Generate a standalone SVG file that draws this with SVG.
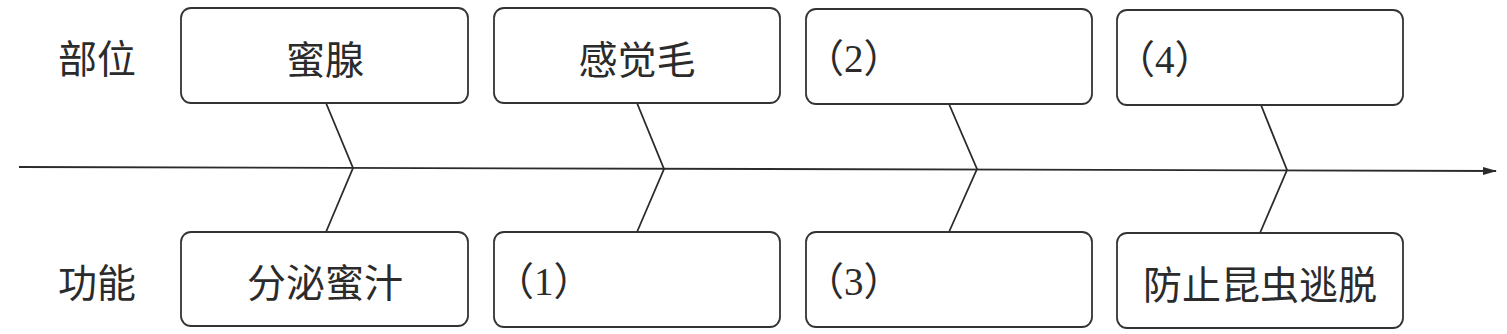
<svg xmlns="http://www.w3.org/2000/svg" width="1507" height="334" viewBox="0 0 1507 334">
<style>
.box{fill:#fff;stroke:#333;stroke-width:1.8}
.t{font-family:"Noto Sans CJK SC","Noto Sans",sans-serif;font-size:39px;fill:#2b2b2b;dominant-baseline:central}
.s{font-family:"Liberation Serif","Noto Sans CJK SC",serif;font-size:39px;fill:#2b2b2b;dominant-baseline:central}
.c{fill:none;stroke:#2b2b2b;stroke-width:1.8}
</style>
<defs>
<marker id="ah" markerWidth="14" markerHeight="10" refX="13" refY="5" orient="auto" markerUnits="userSpaceOnUse">
<path d="M0,1 L14,5 L0,9 Z" fill="#2b2b2b"/>
</marker>
</defs>
<g id="label-buwei"><text class="t" x="97" y="56" text-anchor="middle">部位</text></g>
<g id="label-gongneng"><text class="t" x="97" y="280" text-anchor="middle">功能</text></g>
<g id="connectors">
<line class="c" x1="19" y1="167" x2="1496" y2="171" marker-end="url(#ah)"/>
<polyline class="c" points="326,103 353,168 326,232"/>
<polyline class="c" points="637,103 664,169 637,232"/>
<polyline class="c" points="949,104 977,169 949,232"/>
<polyline class="c" points="1261,105 1287,170 1260,233"/>
</g>
<g id="node-mixian"><rect class="box" x="181" y="8" width="287" height="95" rx="10"/><text class="t" x="325" y="57" text-anchor="middle">蜜腺</text></g>
<g id="node-ganjuemao"><rect class="box" x="494" y="8" width="286" height="95" rx="10"/><text class="t" x="637" y="57" text-anchor="middle">感觉毛</text></g>
<g id="node-2"><rect class="box" x="806" y="9" width="286" height="95" rx="10"/><text class="s" x="805" y="58">（2）</text></g>
<g id="node-4"><rect class="box" x="1117" y="10" width="286" height="95" rx="10"/><text class="s" x="1116" y="59">（4）</text></g>
<g id="node-fenmi"><rect class="box" x="181" y="232" width="287" height="94" rx="10"/><text class="t" x="325" y="280" text-anchor="middle">分泌蜜汁</text></g>
<g id="node-1"><rect class="box" x="494" y="232" width="286" height="95" rx="10"/><text class="s" x="495" y="281">（1）</text></g>
<g id="node-3"><rect class="box" x="806" y="232" width="286" height="95" rx="10"/><text class="s" x="805" y="281">（3）</text></g>
<g id="node-fangzhi"><rect class="box" x="1117" y="233" width="286" height="95" rx="10"/><text class="t" x="1260" y="282" text-anchor="middle">防止昆虫逃脱</text></g>
</svg>
